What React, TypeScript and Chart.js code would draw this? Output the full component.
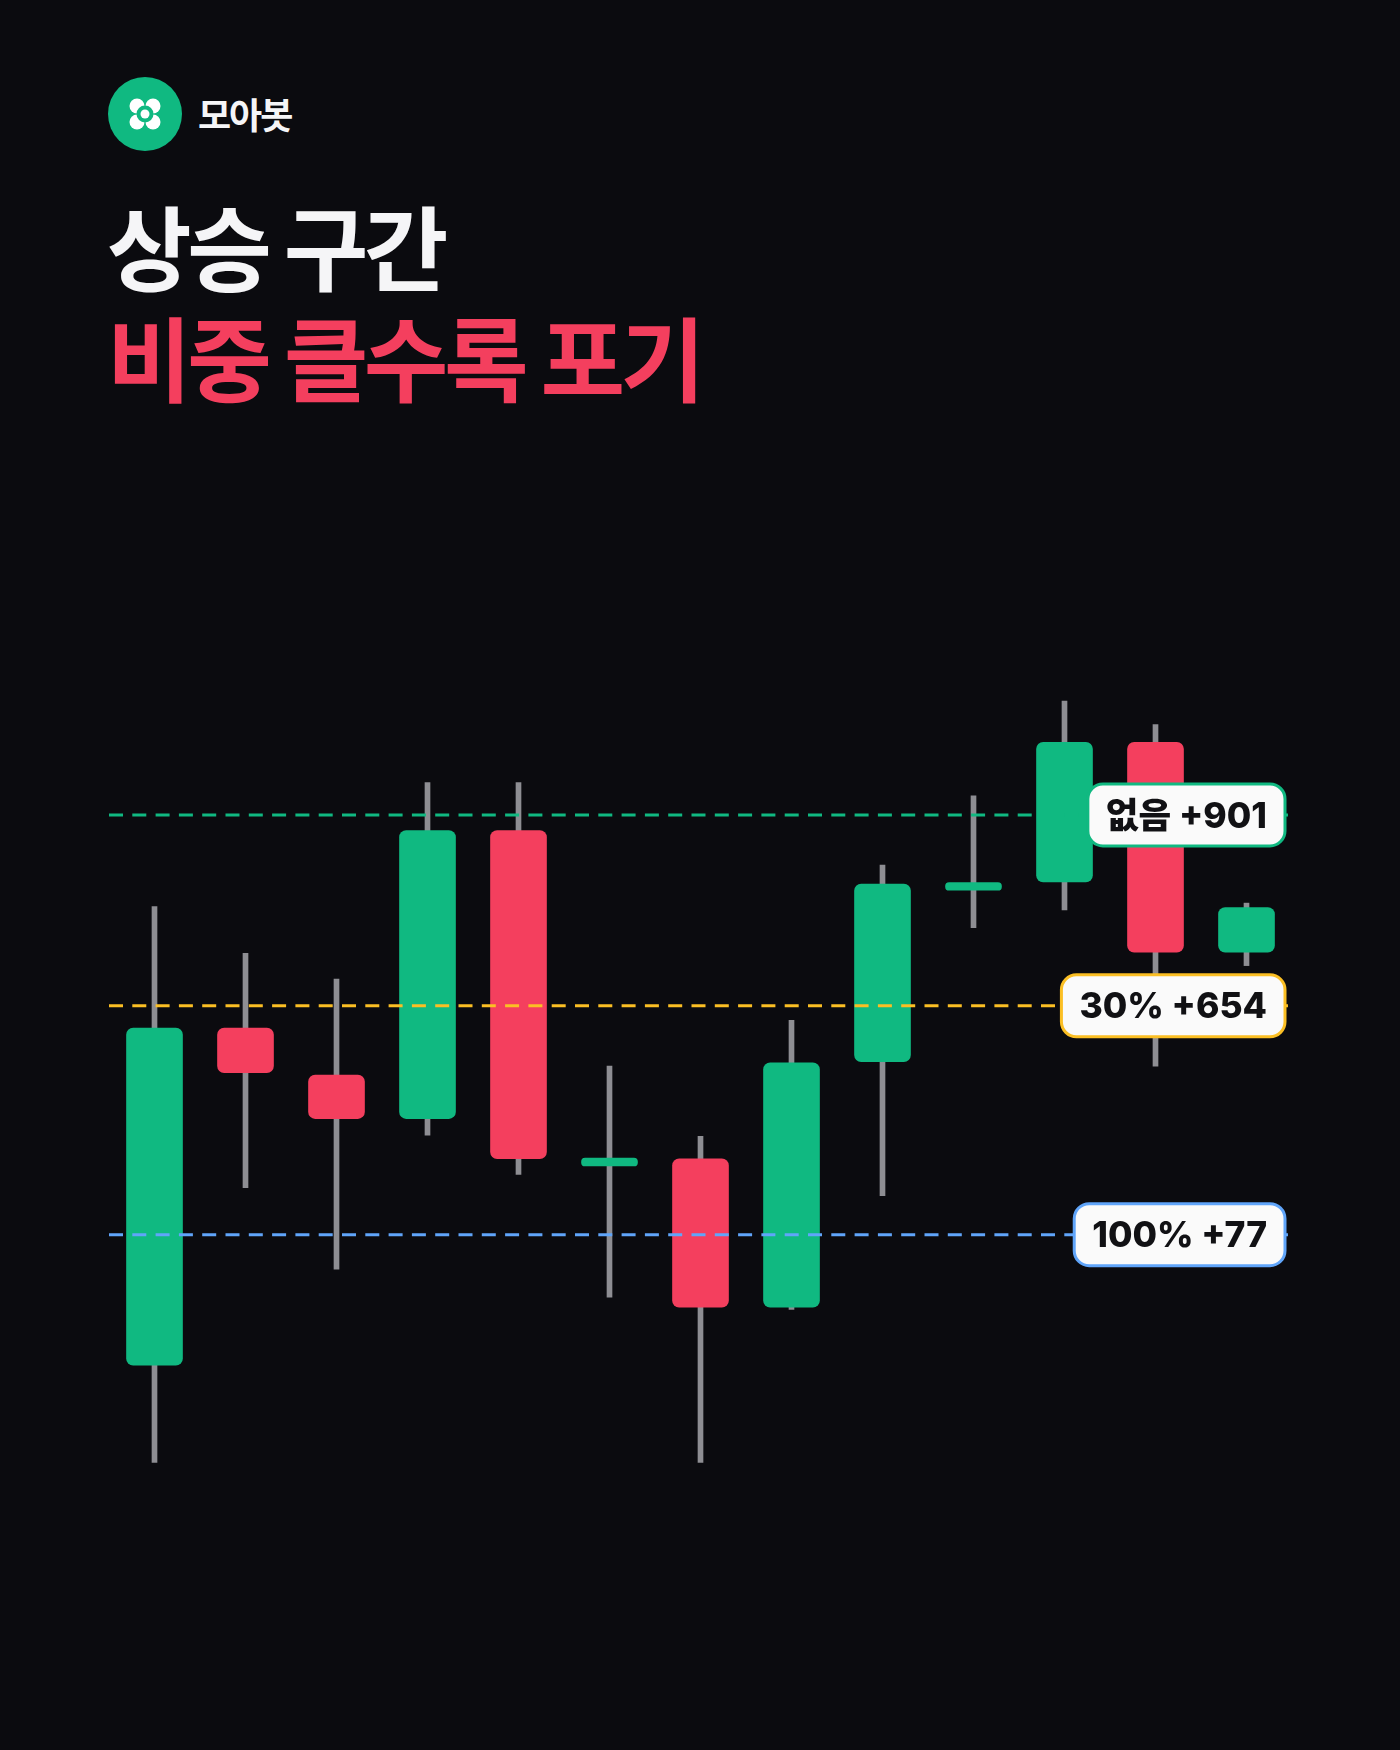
import React, { useEffect, useRef } from "react";
import { Chart, registerables } from "chart.js";

Chart.register(...registerables);

// ---- data ----
const categories = ["1", "2", "3", "4", "5", "6", "7", "8", "9", "10", "11", "12", "13"];
const opens = [12.7, 42.9, 38.7, 34.8, 60.6, 30.55, 31.2, 17.9, 39.9, 55.25, 56.0, 68.5, 49.7];
const closes = [42.9, 38.9, 34.8, 60.6, 31.2, 31.25, 17.9, 39.8, 55.8, 55.95, 68.5, 49.7, 53.7];
const highs = [53.8, 49.6, 47.3, 64.9, 64.9, 39.5, 33.2, 43.6, 57.5, 63.7, 72.2, 70.1, 54.1];
const lows = [4.0, 28.6, 21.3, 33.3, 29.8, 18.8, 4.0, 17.7, 27.9, 51.9, 53.5, 39.5, 48.5];

const refValues = [62.0, 44.9, 24.4];
const refLabels = ["없음 +901", "30% +654", "100% +77"];
const refColors = ["#10b981", "#fbbf24", "#60a5fa"];

const GREEN = "#10b981";
const RED = "#f43f5e";
const WICK = "#8e8e93";
const BG = "#0b0b0f";

const refPlugin = {
  id: "refLines",
  afterDatasetsDraw(chart: any) {
    const { ctx, chartArea } = chart;
    const yScale = chart.scales.y;
    ctx.save();
    refValues.forEach((v, i) => {
      const y = yScale.getPixelForValue(v);
      ctx.beginPath();
      ctx.setLineDash([14, 9.3]);
      ctx.lineWidth = 3;
      ctx.strokeStyle = refColors[i];
      ctx.moveTo(chartArea.left, y);
      ctx.lineTo(chartArea.right - 4, y);
      ctx.stroke();
    });
    ctx.setLineDash([]);
    refValues.forEach((v, i) => {
      const y = yScale.getPixelForValue(v);
      ctx.font = '800 35.5px Inter, "Noto Sans CJK KR", sans-serif';
      const w = ctx.measureText(refLabels[i]).width;
      const padX = 18;
      const bw = w + padX * 2;
      const bh = 62;
      const right = chartArea.right - 7;
      const left = right - bw;
      const top = y - bh / 2;
      ctx.beginPath();
      ctx.roundRect(left, top, bw, bh, 15);
      ctx.fillStyle = "#fafafa";
      ctx.fill();
      ctx.lineWidth = 3;
      ctx.strokeStyle = refColors[i];
      ctx.stroke();
      ctx.fillStyle = "#111114";
      ctx.textBaseline = "middle";
      ctx.textAlign = "left";
      ctx.fillText(refLabels[i], left + padX, y + 2);
    });
    ctx.restore();
  },
};

function CandleChart() {
  const ref = useRef<HTMLCanvasElement | null>(null);
  useEffect(() => {
    if (!ref.current) return;
    const bodyColors = opens.map((o, i) => (closes[i] >= o ? GREEN : RED));
    const chart = new Chart(ref.current, {
      type: "bar",
      data: {
        labels: categories,
        datasets: [
          {
            label: "body",
            data: opens.map((o, i) => [o, closes[i]]) as any,
            backgroundColor: bodyColors,
            barThickness: 56,
            borderRadius: 7,
            borderSkipped: false,
            grouped: false,
            order: 1,
          } as any,
          {
            label: "wick",
            data: lows.map((l, i) => [l, highs[i]]) as any,
            backgroundColor: WICK,
            barThickness: 5,
            borderRadius: 0,
            grouped: false,
            order: 2,
          } as any,
        ],
      },
      options: {
        responsive: false,
        animation: false,
        devicePixelRatio: 1,
        layout: { padding: { left: 109, right: 108, top: 14, bottom: 13 } },
        plugins: { legend: { display: false }, tooltip: { enabled: false } },
        scales: {
          x: { display: false, offset: true, grid: { display: false } },
          y: { display: false, min: 0, max: 80 },
        },
      },
      plugins: [refPlugin],
    });
    return () => chart.destroy();
  }, []);
  return (
    <canvas
      ref={ref}
      width={1400}
      height={920}
      style={{ position: "absolute", left: 0, top: 600, width: 1400, height: 920 }}
    />
  );
}

export default function App() {
  const kr = '"Noto Sans CJK KR", "Noto Sans", sans-serif';
  return (
    <div
      style={{
        position: "absolute",
        left: 0,
        top: 0,
        width: 1400,
        height: 1750,
        background: BG,
        overflow: "hidden",
        fontFamily: kr,
      }}
    >
      <div
        style={{
          position: "absolute",
          left: 108,
          top: 77,
          width: 74,
          height: 74,
          borderRadius: "50%",
          background: GREEN,
        }}
      >
        <svg width={74} height={74} viewBox="0 0 74 74">
          <circle cx={29} cy={29} r={7.5} fill="#fff" />
          <circle cx={45} cy={29} r={7.5} fill="#fff" />
          <circle cx={29} cy={45} r={7.5} fill="#fff" />
          <circle cx={45} cy={45} r={7.5} fill="#fff" />
          <circle cx={37} cy={37} r={8.5} fill={GREEN} />
          <circle cx={37} cy={37} r={4.5} fill="#fff" />
        </svg>
      </div>
      <div
        style={{
          position: "absolute",
          left: 198,
          top: 95,
          fontSize: 36,
          lineHeight: "36px",
          fontWeight: 700,
          letterSpacing: -2,
          color: "#f5f5f7",
          whiteSpace: "nowrap",
        }}
      >
        모아봇
      </div>
      <div
        style={{
          position: "absolute",
          left: 107,
          top: 198,
          fontSize: 92,
          lineHeight: "92px",
          fontWeight: 700,
          letterSpacing: -4.5,
          color: "#f5f5f7",
          whiteSpace: "nowrap",
        }}
      >
        상승 구간
      </div>
      <div
        style={{
          position: "absolute",
          left: 107,
          top: 309,
          fontSize: 92,
          lineHeight: "92px",
          fontWeight: 700,
          letterSpacing: -4.5,
          color: RED,
          whiteSpace: "nowrap",
        }}
      >
        비중 클수록 포기
      </div>
      <CandleChart />
    </div>
  );
}
